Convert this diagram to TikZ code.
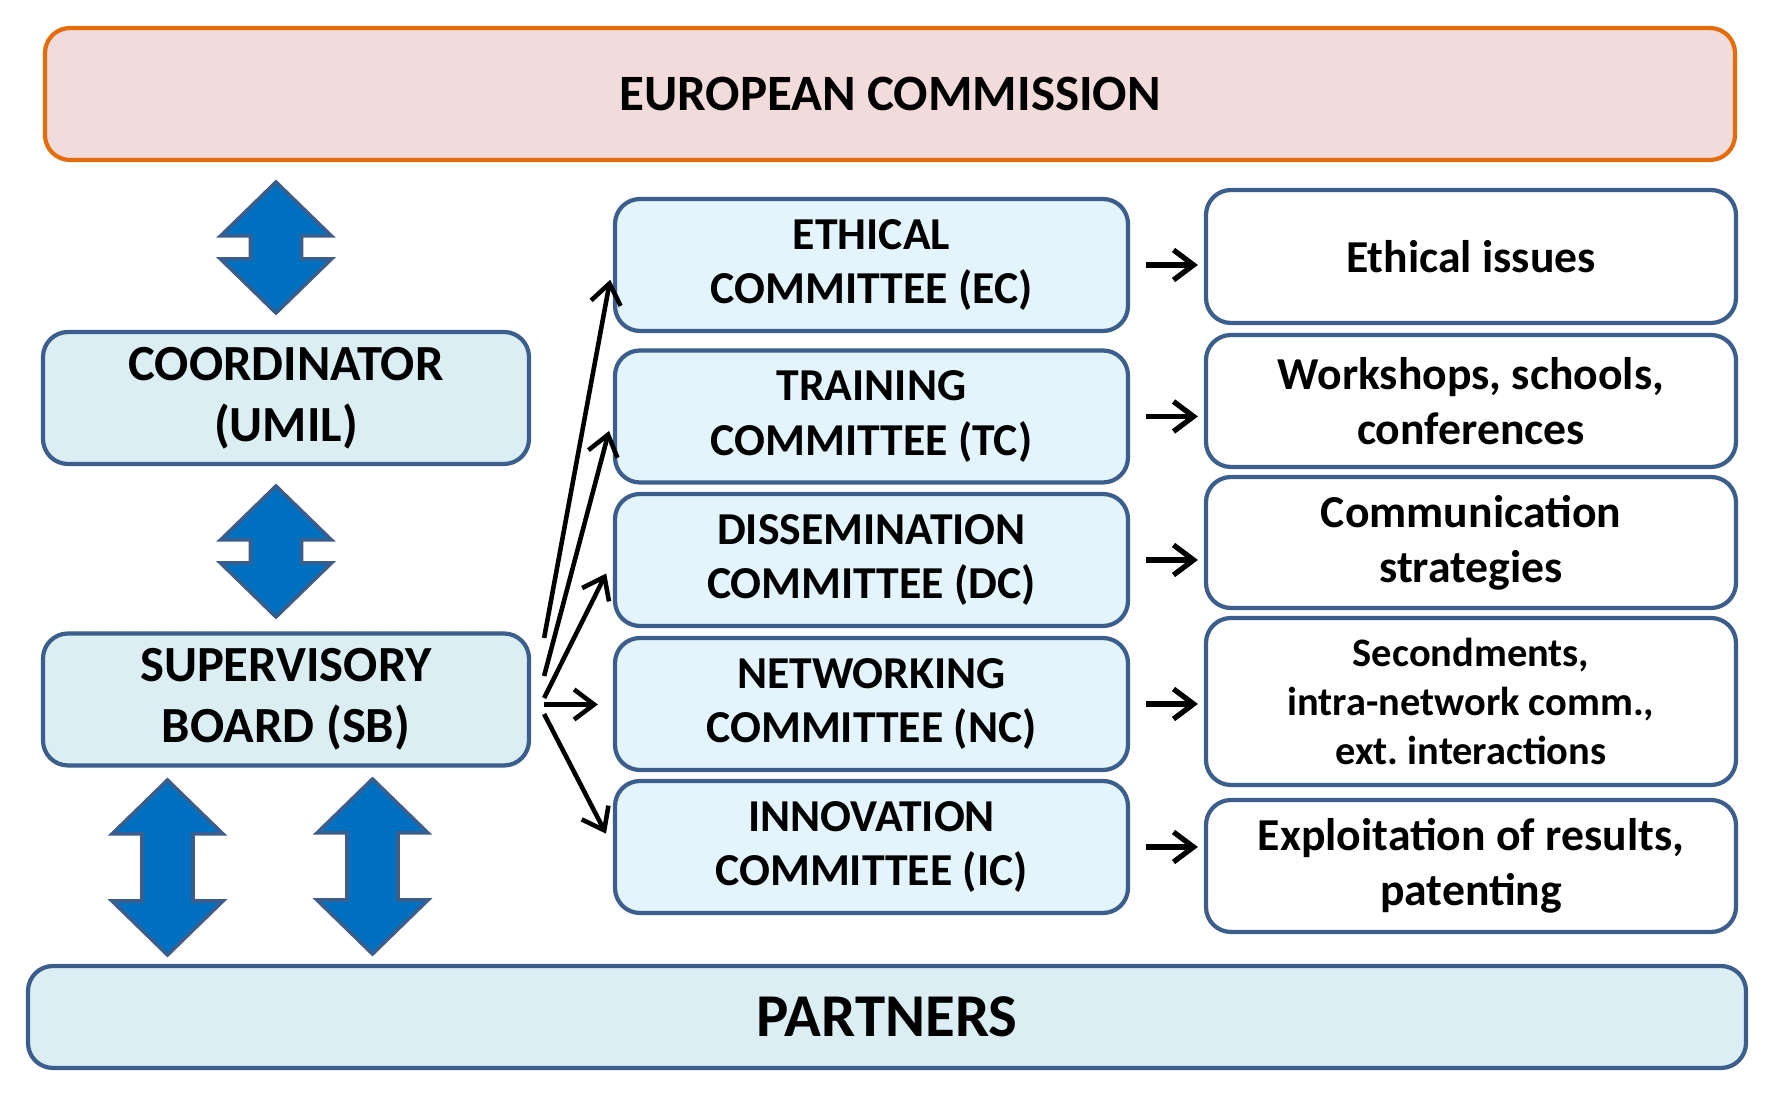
\documentclass[tikz,border=0pt]{standalone}
\usepackage{fontspec}
\setmainfont{Carlito}
\usepackage{xcolor}
\usetikzlibrary{arrows.meta,calc}

\definecolor{ecfill}{HTML}{F2DCDB}
\definecolor{ecline}{HTML}{E46C0A}
\definecolor{leadfill}{HTML}{DBEEF4}
\definecolor{cmtefill}{HTML}{E4F4FC}
\definecolor{boxline}{HTML}{3B5E8C}
\definecolor{arrowblue}{HTML}{0070C0}

\tikzset{
  base/.style={draw=boxline, line width=1.2pt, rounded corners=0.25cm, align=center, inner sep=0pt},
  lead/.style={base, fill=leadfill, minimum width=4.86cm, minimum height=1.32cm, font=\fontsize{14.4}{17.4}\selectfont\bfseries},
  cmte/.style={base, fill=cmtefill, minimum width=5.13cm, minimum height=1.32cm, font=\fontsize{13}{15.6}\selectfont\bfseries},
  task/.style={base, fill=white, minimum width=5.30cm, minimum height=1.32cm, font=\fontsize{13}{15.6}\selectfont\bfseries},
  updown/.style={fill=arrowblue, draw=boxline, line width=1pt, line join=miter},
  fan/.style={-{Straight Barb[length=0.2cm, width=0.3cm]}, line width=1.3pt, shorten >=0.15cm},
  link/.style={-{Straight Barb[length=0.2cm, width=0.3cm]}, line width=1.5pt, shorten <=0.16cm, shorten >=0.06cm},
}

% block arrow: centre x, top y, bottom y
\newcommand{\duarrow}[3]{%
  \draw[updown] (#1,#2) -- (#1+0.555,#2-0.54) -- (#1+0.255,#2-0.54) -- (#1+0.255,#3+0.54)
    -- (#1+0.555,#3+0.54) -- (#1,#3) -- (#1-0.555,#3+0.54) -- (#1-0.255,#3+0.54)
    -- (#1-0.255,#2-0.54) -- (#1-0.555,#2-0.54) -- cycle;}

\begin{document}
\begin{tikzpicture}
  \useasboundingbox (0,0) rectangle (17.72,11);

  % top and bottom bars
  \node[base, draw=ecline, fill=ecfill, minimum width=16.90cm, minimum height=1.32cm,
    font=\fontsize{14.5}{17.4}\selectfont\bfseries] (ec) at (8.90,10.06) {EUROPEAN COMMISSION};
  \node[base, fill=leadfill, minimum width=17.18cm, minimum height=1.02cm,
    font=\fontsize{17.3}{20.8}\selectfont\bfseries] (partners) at (8.87,0.83) {PARTNERS};

  % left column
  \node[lead] (coord) at (2.86,7.02) {COORDINATOR\\(UMIL)};
  \node[lead] (sb) at (2.86,4.005) {SUPERVISORY\\BOARD (SB)};

  \duarrow{2.76}{9.18}{7.87}
  \duarrow{2.76}{6.14}{4.83}
  \duarrow{1.675}{3.20}{1.45}
  \duarrow{3.725}{3.21}{1.46}

  % committees
  \node[cmte] (ethc) at (8.715,8.35) {ETHICAL\\COMMITTEE (EC)};
  \node[cmte] (trc) at (8.715,6.835) {TRAINING\\COMMITTEE (TC)};
  \node[cmte] (disc) at (8.715,5.40) {DISSEMINATION\\COMMITTEE (DC)};
  \node[cmte] (netc) at (8.715,3.96) {NETWORKING\\COMMITTEE (NC)};
  \node[cmte] (innc) at (8.715,2.53) {INNOVATION\\COMMITTEE (IC)};

  % tasks
  \node[task, minimum height=1.33cm] (ethi) at (14.71,8.435) {Ethical issues};
  \node[task] (trai) at (14.71,6.99) {Workshops, schools,\\conferences};
  \node[task, minimum height=1.31cm] (disi) at (14.71,5.575) {Communication\\strategies};
  \node[task, minimum height=1.67cm, font=\fontsize{11.5}{14}\selectfont\bfseries] (neti) at (14.71,3.985)
    {Secondments,\\intra-network comm.,\\ext.\ interactions};
  \node[task] (inni) at (14.71,2.34) {Exploitation of results,\\patenting};

  % fan out of the board
  \coordinate (f1) at ($(sb.east)+(0.13,0.615)$);
  \coordinate (f2) at ($(sb.east)+(0.13,0.235)$);
  \coordinate (f3) at ($(sb.east)+(0.13,0.015)$);
  \coordinate (f4) at ($(sb.east)+(0.13,-0.05)$);
  \coordinate (f5) at ($(sb.east)+(0.13,-0.145)$);
  \draw[fan] (f1) -- (ethc.west);
  \draw[fan] (f2) -- (trc.west);
  \draw[fan] (f3) -- (disc.west);
  \draw[fan] (f4) -- (f4 -| netc.west);
  \draw[fan] (f5) -- (innc.west);

  \foreach \c/\t in {ethc/ethi, trc/trai, disc/disi, netc/neti, innc/inni}
    \draw[link] (\c.east) -- (\c.east -| \t.west);
\end{tikzpicture}
\end{document}
